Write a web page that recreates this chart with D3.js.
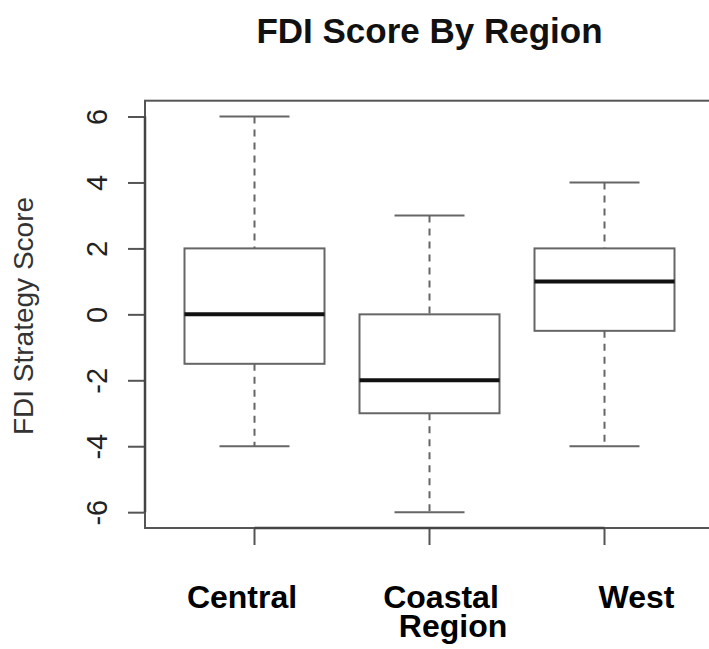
<!DOCTYPE html>
<html lang="en">
<head>
  <meta charset="UTF-8">
  <title>FDI Score By Region</title>
  <script src="https://cdn.jsdelivr.net/npm/d3@7"></script>
  <style>
    body { margin: 0; background: #fff; }
    text { font-family: "Liberation Sans", Arial, sans-serif; }
  </style>
</head>
<body>
<div id="grafica"></div>
<script>
// datos
const regions     = ['Central', 'Coastal Region', 'West']
const whiskerLow  = [-4, -6, -4]
const q1          = [-1.5, -3, -0.5]
const median      = [0, -2, 1]
const q3          = [2, 0, 2]
const whiskerHigh = [6, 3, 4]
const yTicks      = [-6, -4, -2, 0, 2, 4, 6]

const ancho_total = 709
const alto_total  = 649
const frame = {left: 145, right: 714, top: 100.7, bottom: 528}

const svg = d3.select('#grafica')
  .append('svg')
  .attr('width', ancho_total)
  .attr('height', alto_total)

svg.append('rect')
  .attr('width', ancho_total)
  .attr('height', alto_total)
  .attr('fill', '#fff')

const y = d3.scaleLinear()
  .domain([-6.48, 6.48])
  .range([frame.bottom, frame.top])

const x = d3.scaleBand()
  .domain(regions)
  .range([167, 692])

const cx = (d) => x(d) + x.bandwidth() / 2
const boxW = x.bandwidth() * 0.8
const capW = boxW / 2

const data = regions.map((r, i) => ({
  region: r,
  lo: whiskerLow[i],
  q1: q1[i],
  med: median[i],
  q3: q3[i],
  hi: whiskerHigh[i]
}))

// titulo
svg.append('text')
  .attr('x', 429.5)
  .attr('y', 43)
  .attr('text-anchor', 'middle')
  .attr('font-size', 35)
  .attr('font-weight', 'bold')
  .attr('fill', '#111')
  .text('FDI Score By Region')

// marco
svg.append('rect')
  .attr('x', frame.left)
  .attr('y', frame.top)
  .attr('width', frame.right - frame.left)
  .attr('height', frame.bottom - frame.top)
  .attr('fill', 'none')
  .attr('stroke', '#555')
  .attr('stroke-width', 2)

// eje y
const yAxis = svg.append('g')
  .attr('transform', `translate(${frame.left},0)`)
  .call(d3.axisLeft(y).tickValues(yTicks).tickSize(17).tickSizeOuter(0))
yAxis.select('.domain').remove()
yAxis.selectAll('line').attr('stroke', '#555').attr('stroke-width', 2)
yAxis.selectAll('text')
  .attr('x', 0)
  .attr('dy', 0)
  .attr('transform', 'translate(-38,0) rotate(-90)')
  .attr('text-anchor', 'middle')
  .attr('font-size', 29)
  .attr('font-family', '"Liberation Sans", Arial, sans-serif')
  .attr('fill', '#222')
  .text((d) => d)

svg.append('line')
  .attr('x1', frame.left).attr('x2', frame.left)
  .attr('y1', y(6)).attr('y2', y(-6))
  .attr('stroke', '#444').attr('stroke-width', 2.5)

svg.append('text')
  .attr('transform', 'translate(33,316) rotate(-90)')
  .attr('text-anchor', 'middle')
  .attr('font-size', 28)
  .attr('fill', '#333')
  .text('FDI Strategy Score')

// eje x
const xAxis = svg.append('g')
  .attr('transform', `translate(0,${frame.bottom})`)
  .call(d3.axisBottom(x).tickSize(17).tickSizeOuter(0).tickFormat(''))
xAxis.select('.domain').remove()
xAxis.selectAll('line').attr('stroke', '#555').attr('stroke-width', 2)

svg.append('line')
  .attr('x1', cx(regions[0])).attr('x2', cx(regions[regions.length - 1]))
  .attr('y1', frame.bottom).attr('y2', frame.bottom)
  .attr('stroke', '#444').attr('stroke-width', 2.5)

// etiquetas de categoria
const nudge = [-12.5, 11.5, 32]
const lineNudge = [0, 12, 0]
svg.selectAll('.cat')
  .data(regions)
  .enter()
  .append('text')
    .attr('class', 'cat')
    .attr('y', 608)
    .attr('text-anchor', 'middle')
    .attr('font-size', 32)
    .attr('font-weight', 'bold')
    .attr('fill', '#000')
  .each(function(d, i) {
    d.split(' ').forEach((w, j) => {
      d3.select(this).append('tspan')
        .attr('x', cx(d) + nudge[i] + j * lineNudge[i])
        .attr('dy', j === 0 ? 0 : 29)
        .text(w)
    })
  })

// cajas
const g = svg.selectAll('.box')
  .data(data)
  .enter()
  .append('g')
  .attr('class', 'box')

g.append('line')
  .attr('x1', (d) => cx(d.region)).attr('x2', (d) => cx(d.region))
  .attr('y1', (d) => y(d.hi)).attr('y2', (d) => y(d.q3))
  .attr('stroke', '#666').attr('stroke-width', 2).attr('stroke-dasharray', '7,6')

g.append('line')
  .attr('x1', (d) => cx(d.region)).attr('x2', (d) => cx(d.region))
  .attr('y1', (d) => y(d.q1)).attr('y2', (d) => y(d.lo))
  .attr('stroke', '#666').attr('stroke-width', 2).attr('stroke-dasharray', '7,6')

g.selectAll('.cap')
  .data((d) => [d.lo, d.hi].map(v => ({region: d.region, v: v})))
  .enter()
  .append('line')
    .attr('x1', (d) => cx(d.region) - capW / 2)
    .attr('x2', (d) => cx(d.region) + capW / 2)
    .attr('y1', (d) => y(d.v)).attr('y2', (d) => y(d.v))
    .attr('stroke', '#666').attr('stroke-width', 2)

g.append('rect')
  .attr('x', (d) => cx(d.region) - boxW / 2)
  .attr('y', (d) => y(d.q3))
  .attr('width', boxW)
  .attr('height', (d) => y(d.q1) - y(d.q3))
  .attr('fill', '#fff')
  .attr('stroke', '#666')
  .attr('stroke-width', 2)

g.append('line')
  .attr('x1', (d) => cx(d.region) - boxW / 2)
  .attr('x2', (d) => cx(d.region) + boxW / 2)
  .attr('y1', (d) => y(d.med)).attr('y2', (d) => y(d.med))
  .attr('stroke', '#111').attr('stroke-width', 4)
</script>
</body>
</html>
